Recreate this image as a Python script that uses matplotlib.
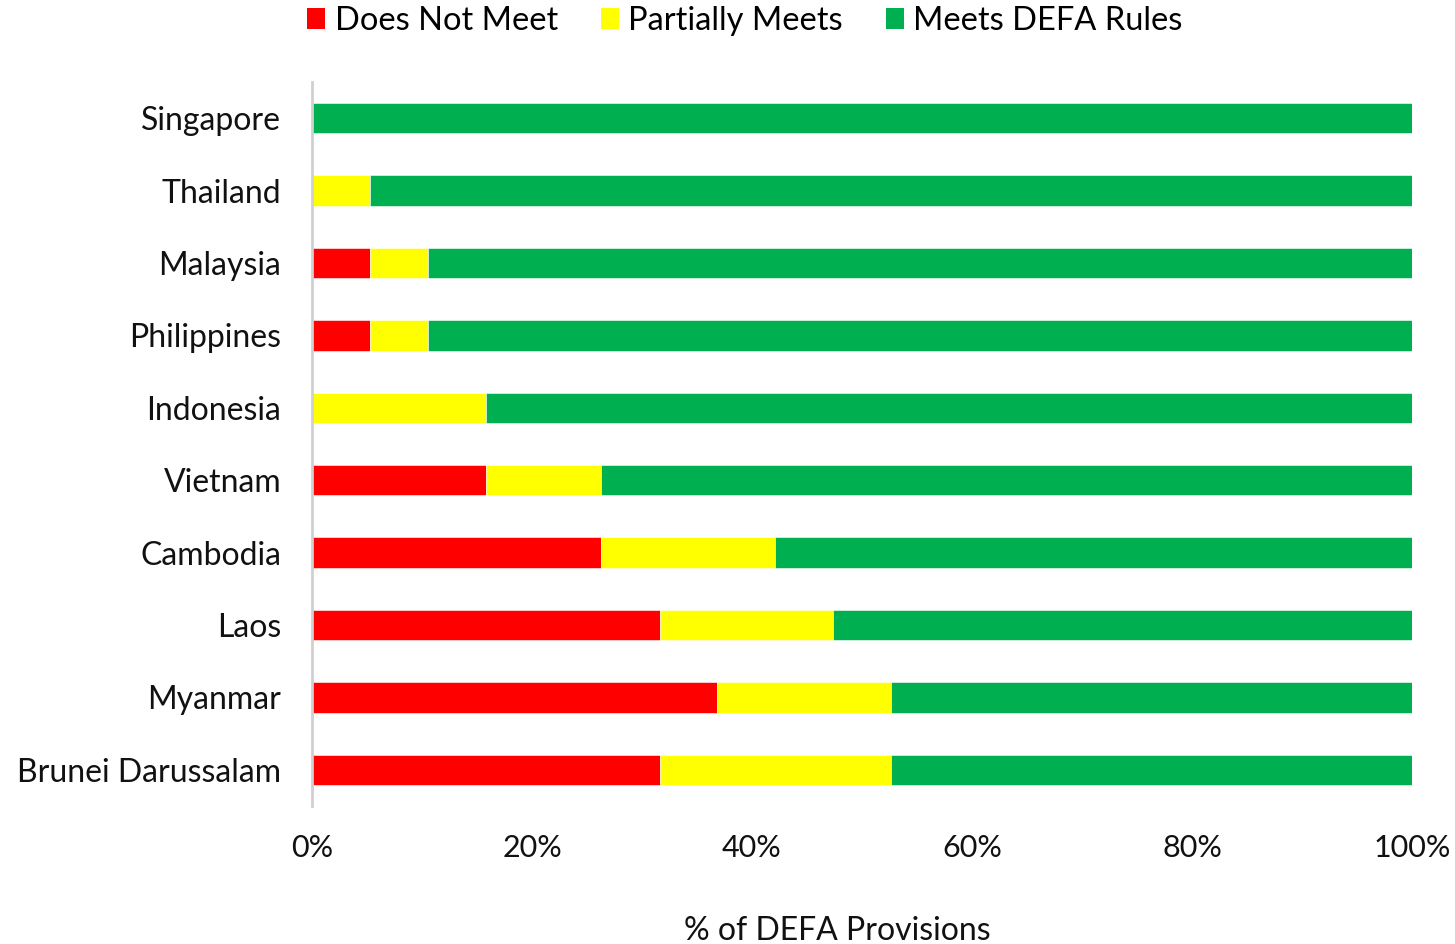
import matplotlib
matplotlib.use("Agg")
import matplotlib.pyplot as plt
from matplotlib.patches import Patch
import numpy as np

countries = ["Singapore", "Thailand", "Malaysia", "Philippines", "Indonesia",
             "Vietnam", "Cambodia", "Laos", "Myanmar", "Brunei Darussalam"]
does_not_meet = [0.0, 0.0, 5.3, 5.3, 0.0, 15.8, 26.3, 31.6, 36.8, 31.6]
partially_meets = [0.0, 5.3, 5.2, 5.2, 15.8, 10.5, 15.8, 15.8, 15.8, 21.0]
meets_rules = [100.0, 94.7, 89.5, 89.5, 84.2, 73.7, 57.9, 52.6, 47.4, 47.4]
series_names = ["Does Not Meet", "Partially Meets", "Meets DEFA Rules"]
xticks = [0, 20, 40, 60, 80, 100]
xtick_labels = ["0%", "20%", "40%", "60%", "80%", "100%"]

colors = ["#FF0000", "#FFFF00", "#00B050"]

plt.rcParams["font.family"] = ["Lato", "DejaVu Sans"]

fig = plt.figure(figsize=(14.55, 9.44), dpi=100)
ax = fig.add_axes([312 / 1455, 1 - 806 / 944, 1100 / 1455, 724 / 944])

y = np.arange(len(countries))
left = np.zeros(len(countries))
for vals, col in zip([does_not_meet, partially_meets, meets_rules], colors):
    vals = np.array(vals)
    ax.barh(y, vals, left=left, height=0.42, color=col,
            edgecolor="white", linewidth=0.4)
    left += vals

ax.set_ylim(len(countries) - 0.5, -0.5)
ax.set_xlim(0, 100)
ax.set_yticks(y)
ax.set_yticklabels(countries, fontsize=23, color="#111111")
ax.set_xticks(xticks)
ax.set_xticklabels(xtick_labels, fontsize=22, color="#111111")
ax.tick_params(axis="y", length=0, pad=22)
ax.tick_params(axis="x", length=0, pad=20)
ax.text(0.478, -0.172, "% of DEFA Provisions", transform=ax.transAxes,
        fontsize=23, color="#111111", ha="center", va="center")

for side in ["top", "right", "bottom"]:
    ax.spines[side].set_visible(False)
ax.spines["left"].set_color("#D0D0D0")
ax.spines["left"].set_linewidth(2)

handles = [Patch(facecolor=c, edgecolor="none") for c in colors]
fig.legend(handles, series_names, loc="center", bbox_to_anchor=(745 / 1455, 1 - 21 / 944),
           ncol=3, frameon=False, fontsize=23.5, handlelength=0.55, handleheight=0.6,
           handletextpad=0.3, columnspacing=1.3)

fig.savefig("out.png", dpi=100)
